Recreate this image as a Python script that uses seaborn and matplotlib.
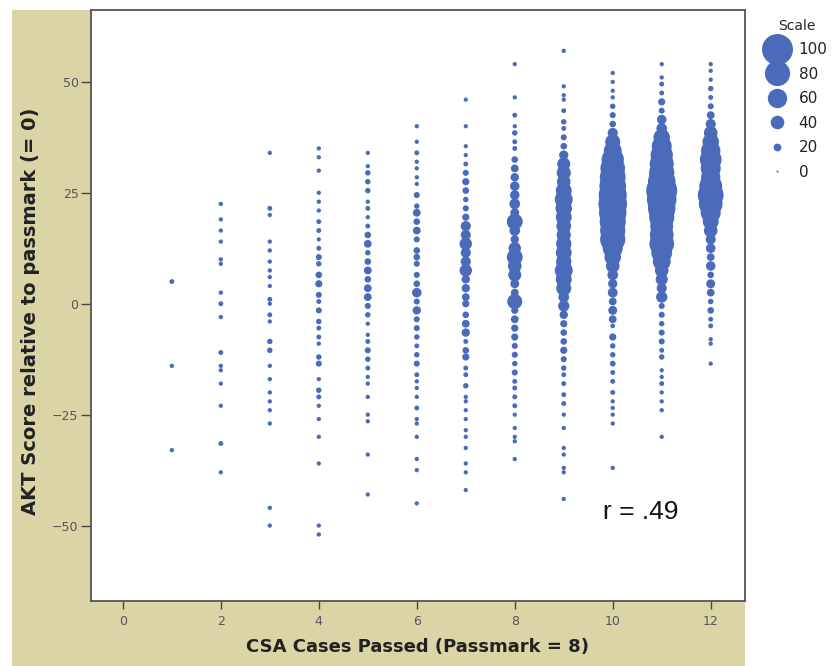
import numpy as np
import pandas as pd
import matplotlib
matplotlib.use("Agg")
import matplotlib.pyplot as plt
import seaborn as sns
from matplotlib.lines import Line2D
from matplotlib.patches import Rectangle

sns.set_theme(style="white")
plt.rcParams['font.family'] = ['Liberation Sans Narrow', 'DejaVu Sans']

# ---------------- data ----------------
csa_cases = [1, 2, 3, 4, 5, 6, 7, 8, 9, 10, 11, 12]

akt_c1 = [5, -14, -33]
n_c1 = [10, 8, 8]

akt_c2 = [22.5, 19, 16.5, 14, 10, 9, 2.5, 0, -3, -11, -14, -15, -18, -23, -31.5, -38]
n_c2 = [8, 8, 8, 8, 8, 8, 8, 10, 8, 10, 8, 8, 8, 8, 10, 8]

akt_c3 = [34, 21.5, 20, 14, 12, 9.5, 7.5, 6, 4, 1, 0, -2.5, -4, -8.5, -10.5, -14, -17, -20,
          -22, -24, -27, -46, -50]
n_c3 = [8, 10, 8, 8, 8, 8, 8, 8, 8, 10, 8, 10, 8, 12, 12, 8, 8, 8, 8, 8, 8, 8, 8]

akt_c4 = [35, 33, 30, 25, 23, 21, 18.5, 16.5, 14.5, 12.5, 10.5, 9, 6.5, 4.5, 2, 0.5, -1.5, -4,
          -5.5, -7.5, -9, -12, -13.5, -17, -19.5, -21, -23, -26, -30, -36, -50, -52]
n_c4 = [8, 8, 8, 8, 8, 8, 10, 10, 8, 10, 14, 12, 16, 18, 14, 10, 14, 12, 10, 10, 8, 12, 14, 8,
        12, 10, 8, 8, 8, 8, 8, 8]

akt_c5 = [34, 31, 29.5, 27.5, 25.5, 23, 21.5, 19.5, 17.5, 15.5, 13.5, 11.5, 9.5, 7.5, 5.5, 3.5,
          1.5, -0.5, -2.5, -4.5, -7, -8.5, -10.5, -12.5, -14.5, -16.5, -18, -21, -25, -26.5, -34, -43]
n_c5 = [8, 8, 12, 12, 12, 8, 10, 8, 10, 16, 20, 12, 16, 20, 16, 20, 20, 14, 12, 8, 8, 10, 14, 12,
        10, 8, 8, 8, 8, 8, 8, 8]

akt_c6 = [40, 36.5, 34, 32, 30.5, 28.5, 27, 24.5, 22, 20.5, 18.5, 16.5, 14.5, 12, 10.5, 9, 6.5,
          4.5, 2.5, 0.5, -1.5, -3.5, -5.5, -7.5, -9.5, -11.5, -13.5, -16, -17.5, -19, -21, -23.5,
          -26, -27, -30, -35, -37.5, -45]
n_c6 = [8, 8, 10, 8, 8, 8, 8, 14, 12, 20, 16, 20, 14, 16, 16, 14, 14, 16, 26, 14, 22, 14, 14, 12,
        10, 12, 14, 10, 8, 8, 8, 10, 8, 8, 8, 8, 8, 8]

akt_c7 = [46, 40, 35.5, 33.5, 31.5, 29.5, 27.5, 25.5, 23.5, 21.5, 19.5, 17.5, 15.5, 13.5, 11.5,
          9.5, 7.5, 5.5, 3.5, 1.5, 0, -2.5, -4.5, -6.5, -8.5, -10.5, -12, -14.5, -16, -18.5, -21,
          -22, -24, -26, -28.5, -30, -32.5, -36, -38, -42]
n_c7 = [8, 8, 8, 8, 10, 14, 18, 16, 12, 14, 18, 28, 28, 36, 28, 28, 36, 22, 22, 20, 18, 16, 20,
        22, 10, 16, 18, 10, 10, 12, 8, 8, 8, 8, 8, 8, 8, 8, 8, 8]

akt_c8 = [54, 46.5, 42.5, 40, 38.5, 36.5, 35, 32.5, 30.5, 28.5, 26.5, 24.5, 22.5, 20.5, 18.5,
          16.5, 14.5, 12.5, 10.5, 8.5, 6.5, 4.5, 2.5, 0.5, -1.5, -3.5, -5.5, -7.5, -9.5, -11.5,
          -13.5, -15.5, -17.5, -19, -21, -23, -25, -28, -30, -31, -35]
n_c8 = [8, 8, 10, 8, 12, 10, 10, 16, 20, 22, 26, 26, 30, 24, 48, 30, 22, 36, 48, 40, 38, 24, 20,
        45, 18, 20, 18, 18, 14, 14, 12, 14, 10, 10, 10, 10, 8, 8, 8, 8, 8]

akt_c9 = [57, 49, 47, 46, 43.5, 41, 39.5, 37.5, 35.5, 33.5, 31.5, 29.5, 27.5, 25.5, 23.5, 21.5,
          19.5, 17.5, 15.5, 13.5, 11.5, 9.5, 7.5, 5.5, 3.5, 1.5, -0.5, -2.5, -4.5, -6.5, -8.5,
          -10.5, -12.5, -14.5, -16, -18, -20.5, -22.5, -25, -28, -32.5, -34, -37, -38, -44]
n_c9 = [8, 8, 8, 8, 10, 12, 10, 14, 16, 25, 38, 42, 40, 48, 55, 50, 48, 44, 42, 46, 48, 46, 55,
        48, 45, 30, 32, 22, 18, 16, 16, 18, 14, 12, 10, 10, 10, 10, 8, 8, 8, 8, 8, 8, 8]

akt_c10 = [52, 50, 48, 46.5, 44.5, 42.5, 40.5, 38.5, 36.5, 34.5, 32.5, 30.5, 28.5, 26.5, 24.5,
           22.5, 20.5, 18.5, 16.5, 14.5, 12.5, 10.5, 8.5, 6.5, 4.5, 2.5, 0.5, -1.5, -3.5, -5,
           -7.5, -9.5, -11.5, -13.5, -15.5, -17.5, -20, -22, -23.5, -25, -27, -37]
n_c10 = [8, 8, 8, 8, 12, 14, 16, 28, 45, 55, 70, 78, 82, 85, 90, 92, 88, 83, 80, 80, 62, 50, 40,
         30, 25, 27, 20, 24, 20, 9, 18, 12, 12, 13, 10, 10, 10, 8, 8, 8, 8, 8]

akt_c11 = [54, 51, 49.5, 47.5, 45.5, 43.5, 41.5, 39.5, 37.5, 35.5, 33.5, 31.5, 29.5, 27.5, 25.5,
           23.5, 21.5, 19.5, 17.5, 15.5, 13.5, 11.5, 9.5, 7.5, 5.5, 3.5, 1.5, -0.5, -2.5, -4.5,
           -6.5, -8.5, -10.5, -12, -15, -16.5, -18, -20, -22, -24, -30]
n_c11 = [8, 8, 10, 10, 18, 14, 26, 30, 50, 62, 70, 76, 80, 88, 100, 95, 88, 80, 72, 75, 78, 65,
         55, 40, 35, 28, 32, 14, 14, 12, 14, 14, 10, 12, 8, 8, 10, 8, 8, 8, 8]

akt_c12 = [54, 52.5, 50.5, 48.5, 46.5, 44.5, 42.5, 40.5, 38.5, 36.5, 34.5, 32.5, 30.5, 28.5,
           26.5, 24.5, 22.5, 20.5, 18.5, 16.5, 14.5, 12.5, 10.5, 8.5, 6.5, 4.5, 2.5, 0.5, -1.5,
           -3.5, -5, -8, -9, -13.5]
n_c12 = [8, 8, 8, 12, 10, 14, 20, 28, 40, 50, 60, 68, 62, 60, 72, 82, 75, 62, 48, 40, 28, 26, 20,
         26, 16, 24, 20, 12, 16, 10, 10, 8, 8, 8]

scale_values = [100, 80, 60, 40, 20, 0]
x_ticks = [0, 2, 4, 6, 8, 10, 12]
y_ticks = [-50, -25, 0, 25, 50]
r_text = "r = .49"

akt_cols = [akt_c1, akt_c2, akt_c3, akt_c4, akt_c5, akt_c6, akt_c7, akt_c8, akt_c9, akt_c10,
            akt_c11, akt_c12]
n_cols = [n_c1, n_c2, n_c3, n_c4, n_c5, n_c6, n_c7, n_c8, n_c9, n_c10, n_c11, n_c12]

df = pd.concat([pd.DataFrame({"csa": c, "akt": a, "count": n})
                for c, a, n in zip(csa_cases, akt_cols, n_cols)], ignore_index=True)

# ---------------- styling ----------------
BLUE = "#4a6bb9"
TAN = "#dbd4a6"
DPI = 100


def diam_pt(v):
    # marker diameter (points): grows linearly with the scale value
    return (2.0 + 0.29 * v) * 72.0 / DPI


size_map = {v: diam_pt(v) ** 2 for v in sorted(df["count"].unique())}

fig = plt.figure(figsize=(8.35, 6.66), dpi=DPI)
fig.patch.set_facecolor("white")
bg = Rectangle((12 / 835, 0), (745 - 12) / 835, (666 - 10) / 666,
               transform=fig.transFigure, facecolor=TAN, edgecolor="none", zorder=-10)
fig.patches.append(bg)
ax = fig.add_axes([91 / 835, 65 / 666, 654 / 835, 591 / 666])
ax.set_zorder(5)
ax.set_facecolor("white")

sns.scatterplot(data=df, x="csa", y="akt", size="count", sizes=size_map, color=BLUE,
                linewidth=0, alpha=1, legend=False, ax=ax)

ax.set_xlim(-0.65, 12.7)
ax.set_ylim(-67, 66.2)
ax.set_xticks(x_ticks)
ax.set_yticks(y_ticks)
ax.tick_params(axis="both", which="major", direction="out", color="#444444",
               labelcolor="#555555", labelsize=9, width=1.0, bottom=True, left=True,
               top=False, right=False)
ax.tick_params(axis="x", length=6, pad=4)
ax.tick_params(axis="y", length=7, pad=2)
for sp in ax.spines.values():
    sp.set_color("#555555")
    sp.set_linewidth(1.3)

ax.set_xlabel("CSA Cases Passed (Passmark = 8)", fontsize=13, fontweight="bold",
              color="#222222", family=["DejaVu Sans"])
ax.set_ylabel("AKT Score relative to passmark (= 0)", fontsize=14, fontweight="bold",
              color="#222222", family=["DejaVu Sans"])
ax.xaxis.set_label_coords(0.5, -0.062)
ax.yaxis.set_label_coords(-0.078, 0.49)

ax.text(9.8, -47, r_text, fontsize=19, va="center", ha="left", color="#111111",
        family=["Liberation Sans", "DejaVu Sans"])

handles = [Line2D([0], [0], marker="o", linestyle="none", markerfacecolor=BLUE,
                  markeredgewidth=0, markersize=diam_pt(v)) for v in scale_values]
leg = fig.legend(handles, [str(v) for v in scale_values], title="Scale",
                 loc="upper left", bbox_to_anchor=(755 / 835, 1 - 8 / 666), frameon=False,
                 fontsize=11, title_fontsize=10, labelspacing=0.62, handletextpad=0.7,
                 handlelength=1.45, borderpad=0.2)
for t in leg.get_texts():
    t.set_color("#222222")

fig.savefig("out.png", dpi=DPI)
